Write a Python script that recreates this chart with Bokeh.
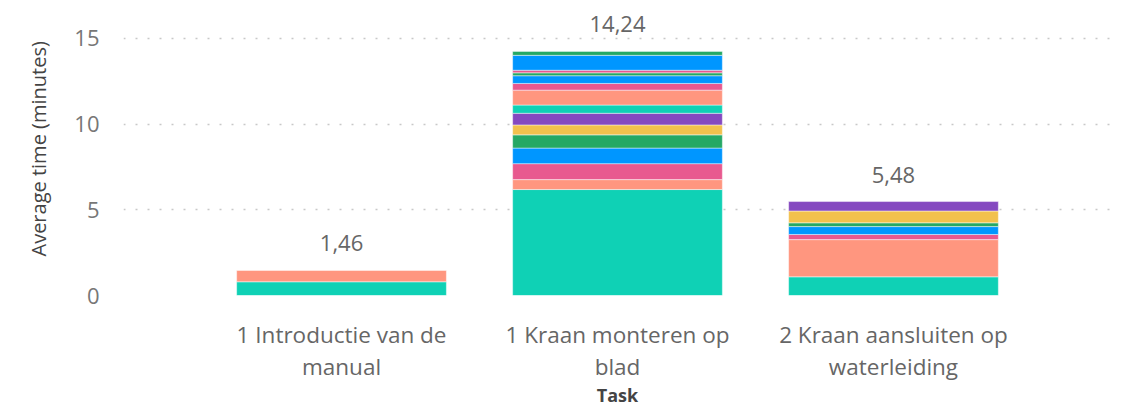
import math
from bokeh.plotting import figure
from bokeh.models import (ColumnDataSource, FactorRange, Range1d, FixedTicker, LabelSet,
                          CustomJSTickFormatter, Title)
from bokeh.core.properties import value
from bokeh.embed import file_html
from bokeh.resources import INLINE

# ---- data ----
categories = ["1 Introductie van de manual",
              "1 Kraan monteren op blad",
              "2 Kraan aansluiten op waterleiding"]
tick_line1 = ["1 Introductie van de", "1 Kraan monteren op", "2 Kraan aansluiten op"]
tick_line2 = ["manual", "blad", "waterleiding"]
totals = [1.46, 14.24, 5.48]

palette = ["#0FD1B5", "#FF967F", "#E8598F", "#0096FF", "#25A865", "#F2C14D", "#8549C0"]

intro_values = [0.80, 0.66]
intro_colors = [0, 1]
monteren_values = [6.18, 0.58, 0.93, 0.91, 0.77, 0.58, 0.68, 0.48, 0.87, 0.39, 0.45, 0.17, 0.15, 0.87, 0.23]
monteren_colors = [0, 1, 2, 3, 4, 5, 6, 0, 1, 2, 3, 4, 2, 3, 4]
aansluiten_values = [1.09, 2.17, 0.30, 0.46, 0.22, 0.69, 0.55]
aansluiten_colors = [0, 1, 2, 3, 4, 5, 6]

y_ticks = [0, 5, 10, 15]

# ---- build stacked segments ----
seg_x, seg_bottom, seg_top, seg_color = [], [], [], []
for cat, vals, cols in zip(categories,
                           [intro_values, monteren_values, aansluiten_values],
                           [intro_colors, monteren_colors, aansluiten_colors]):
    base = 0.0
    for v, c in zip(vals, cols):
        seg_x.append(cat)
        seg_bottom.append(base)
        seg_top.append(base + v)
        seg_color.append(palette[c])
        base += v

src = ColumnDataSource(dict(x=seg_x, bottom=seg_bottom, top=seg_top, color=seg_color))

FONT = "Open Sans"

p = figure(x_range=FactorRange(factors=categories, range_padding=0.29, range_padding_units="absolute"),
           y_range=Range1d(0, 16.8),
           width=1120, height=410,
           output_backend="svg", toolbar_location=None,
           min_border_left=123, min_border_right=9, min_border_top=7, min_border_bottom=114)

p.vbar(x="x", bottom="bottom", top="top", width=0.76, fill_color="color",
       line_color="white", line_alpha=0.45, line_width=1, source=src)

# value labels above bars
lab_src = ColumnDataSource(dict(x=categories, y=totals,
                                text=[f"{t:.2f}".replace(".", ",") for t in totals]))
p.add_layout(LabelSet(x="x", y="y", text="text", source=lab_src, y_offset=19,
                      text_align="center", text_baseline="alphabetic",
                      text_font=value(FONT), text_font_size="22px", text_color="#666666"))

# styling
p.outline_line_color = None
p.xgrid.grid_line_color = None
p.ygrid.ticker = FixedTicker(ticks=y_ticks)
p.ygrid.grid_line_color = "#c8c8c8"
p.ygrid.grid_line_dash = "2 10"
p.ygrid.grid_line_width = 1.5

p.yaxis.ticker = FixedTicker(ticks=y_ticks)
p.yaxis.axis_line_color = None
p.yaxis.major_tick_line_color = None
p.yaxis.minor_tick_line_color = None
p.yaxis.major_label_standoff = 18
p.yaxis.major_label_text_font = FONT
p.yaxis.major_label_text_font_size = "22px"
p.yaxis.major_label_text_color = "#777777"

xa = p.xaxis[0]
xa.axis_line_color = None
xa.major_tick_line_color = None
xa.minor_tick_line_color = None
xa.formatter = CustomJSTickFormatter(
    args=dict(cats=categories, l1=tick_line1, l2=tick_line2),
    code="const i = cats.indexOf(tick); return i < 0 ? tick : l1[i] + '\\n' + l2[i];")
xa.major_label_standoff = 17
xa.major_label_text_font = FONT
xa.major_label_text_font_size = "22.5px"
xa.major_label_text_line_height = 1.05
xa.major_label_text_color = "#666666"
xa.axis_label = "Task"
xa.axis_label_standoff = -2
xa.axis_label_text_font = FONT
xa.axis_label_text_font_size = "18px"
xa.axis_label_text_font_style = "bold"
xa.axis_label_text_color = "#444444"

# y axis title, placed like the reference
p.add_layout(Title(text="Average time (minutes)", align="left", offset=39, standoff=40,
                   text_font=FONT, text_font_size="20px", text_font_style="normal",
                   text_color="#444444"), "left")

open("out.html", "w").write(file_html(p, INLINE))
